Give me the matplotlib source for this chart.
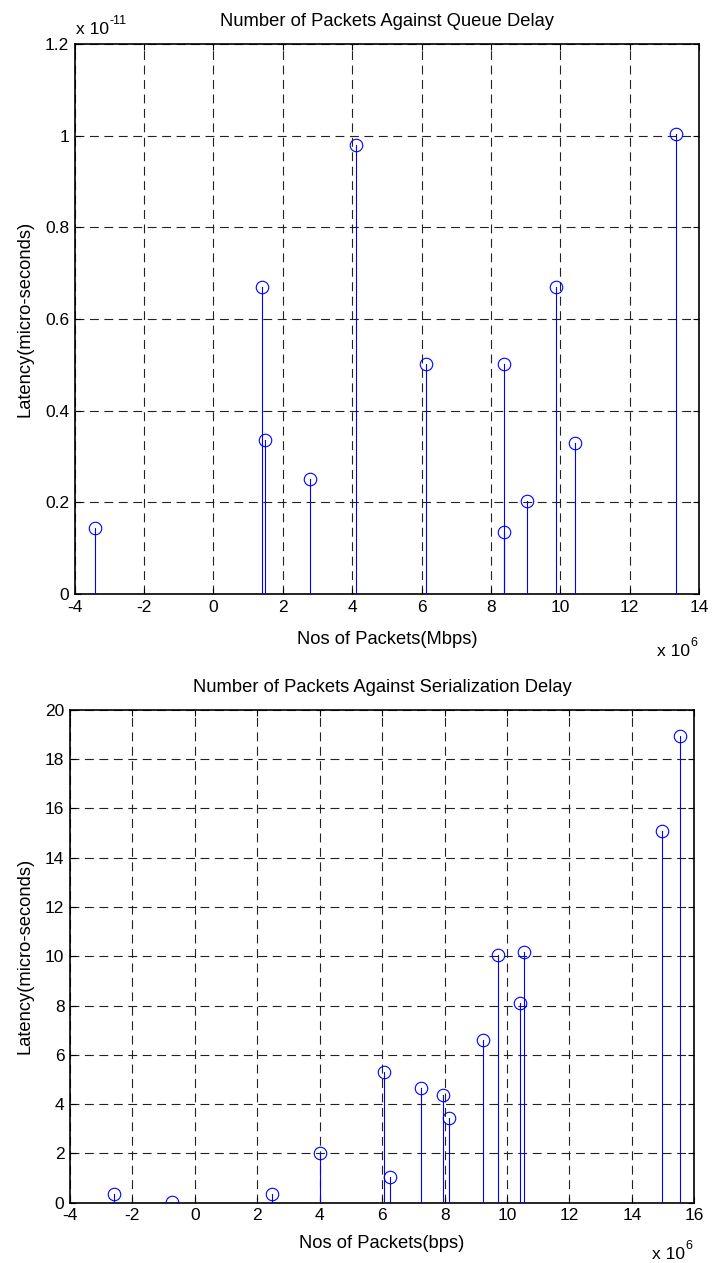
import numpy as np
import matplotlib
matplotlib.use("Agg")
import matplotlib.pyplot as plt
from matplotlib.ticker import FuncFormatter

plt.rcParams['font.family'] = ['Liberation Sans', 'DejaVu Sans']

# queue delay (x in 1e6 packets, y in 1e-11 micro-seconds)
queue_pkts = [-3.42, 1.41, 1.50, 2.78, 4.11, 6.14, 8.38, 8.38, 9.04, 9.87, 10.42, 13.35]
queue_lat = [0.143, 0.670, 0.336, 0.252, 0.979, 0.502, 0.502, 0.136, 0.204, 0.670, 0.329, 1.003]

# serialization delay (x in 1e6 packets, y in micro-seconds)
ser_pkts = [-2.59, -0.72, 2.47, 4.01, 6.07, 6.25, 7.26, 7.96, 8.14, 9.24, 9.71, 10.43, 10.53, 14.95, 15.55]
ser_lat = [0.34, 0.04, 0.34, 2.02, 5.30, 1.04, 4.66, 4.38, 3.45, 6.61, 10.05, 8.12, 10.18, 15.06, 18.94]

q_xticks = [-4, -2, 0, 2, 4, 6, 8, 10, 12, 14]
q_yticks = [0, 0.2, 0.4, 0.6, 0.8, 1.0, 1.2]
s_xticks = [-4, -2, 0, 2, 4, 6, 8, 10, 12, 14, 16]
s_yticks = [0, 2, 4, 6, 8, 10, 12, 14, 16, 18, 20]

FS = 12.5
W, H = 712.0, 1263.0


def matlab_stem(ax, x, y, xticks, yticks):
    for xi, yi in zip(x, y):
        ax.plot([xi, xi], [0, yi], color='#0000ff', lw=0.8, zorder=3)
    ax.plot(x, y, 'o', mfc='none', mec='#0000ff', ms=9, mew=0.8, zorder=4)
    ax.set_xlim(xticks[0], xticks[-1])
    ax.set_ylim(yticks[0], yticks[-1])
    ax.set_xticks(xticks)
    ax.set_yticks(yticks)
    fmt = FuncFormatter(lambda v, p: '%g' % v)
    ax.xaxis.set_major_formatter(fmt)
    ax.yaxis.set_major_formatter(fmt)
    ax.grid(True, color='#222222', ls=(0, (8, 5)), lw=0.8)
    ax.tick_params(direction='in', top=True, right=True, length=4, width=0.8,
                   labelsize=FS, pad=4)
    for s in ax.spines.values():
        s.set_linewidth(1.2)
    ax.set_axisbelow(True)


def exponent(xpx, ypx, power):
    # MATLAB style "x 10^n" multiplier
    fig.text(xpx / W, 1 - ypx / H, 'x 10', ha='left', va='baseline', fontsize=FS)
    fig.text((xpx + 33) / W, 1 - (ypx - 10) / H, power, ha='left', va='baseline',
             fontsize=FS * 0.72)


fig = plt.figure(figsize=(7.12, 12.63), dpi=100)

ax1 = fig.add_axes([74.7 / W, 1 - 594 / H, 624.3 / W, 550 / H])
matlab_stem(ax1, queue_pkts, queue_lat, q_xticks, q_yticks)

ax2 = fig.add_axes([70 / W, 1 - 1202.7 / H, 624.3 / W, 493 / H])
matlab_stem(ax2, ser_pkts, ser_lat, s_xticks, s_yticks)

# titles and labels
fig.text(387 / W, 1 - 21 / H, 'Number of Packets Against Queue Delay',
         ha='center', va='center', fontsize=13.2)
fig.text(382 / W, 1 - 687 / H, 'Number of Packets Against Serialization Delay',
         ha='center', va='center', fontsize=13.2)
fig.text(387 / W, 1 - 639 / H, 'Nos of Packets(Mbps)', ha='center', va='center', fontsize=13.2)
fig.text(382 / W, 1 - 1243 / H, 'Nos of Packets(bps)', ha='center', va='center', fontsize=13.2)
fig.text(25 / W, 1 - 319 / H, 'Latency(micro-seconds)', rotation=90,
         ha='center', va='center', fontsize=13.2)
fig.text(25 / W, 1 - 956 / H, 'Latency(micro-seconds)', rotation=90,
         ha='center', va='center', fontsize=13.2)

# exponent labels
exponent(76, 34, '-11')
exponent(657, 656, '6')
exponent(652, 1259, '6')

fig.savefig('out.png', dpi=100)
